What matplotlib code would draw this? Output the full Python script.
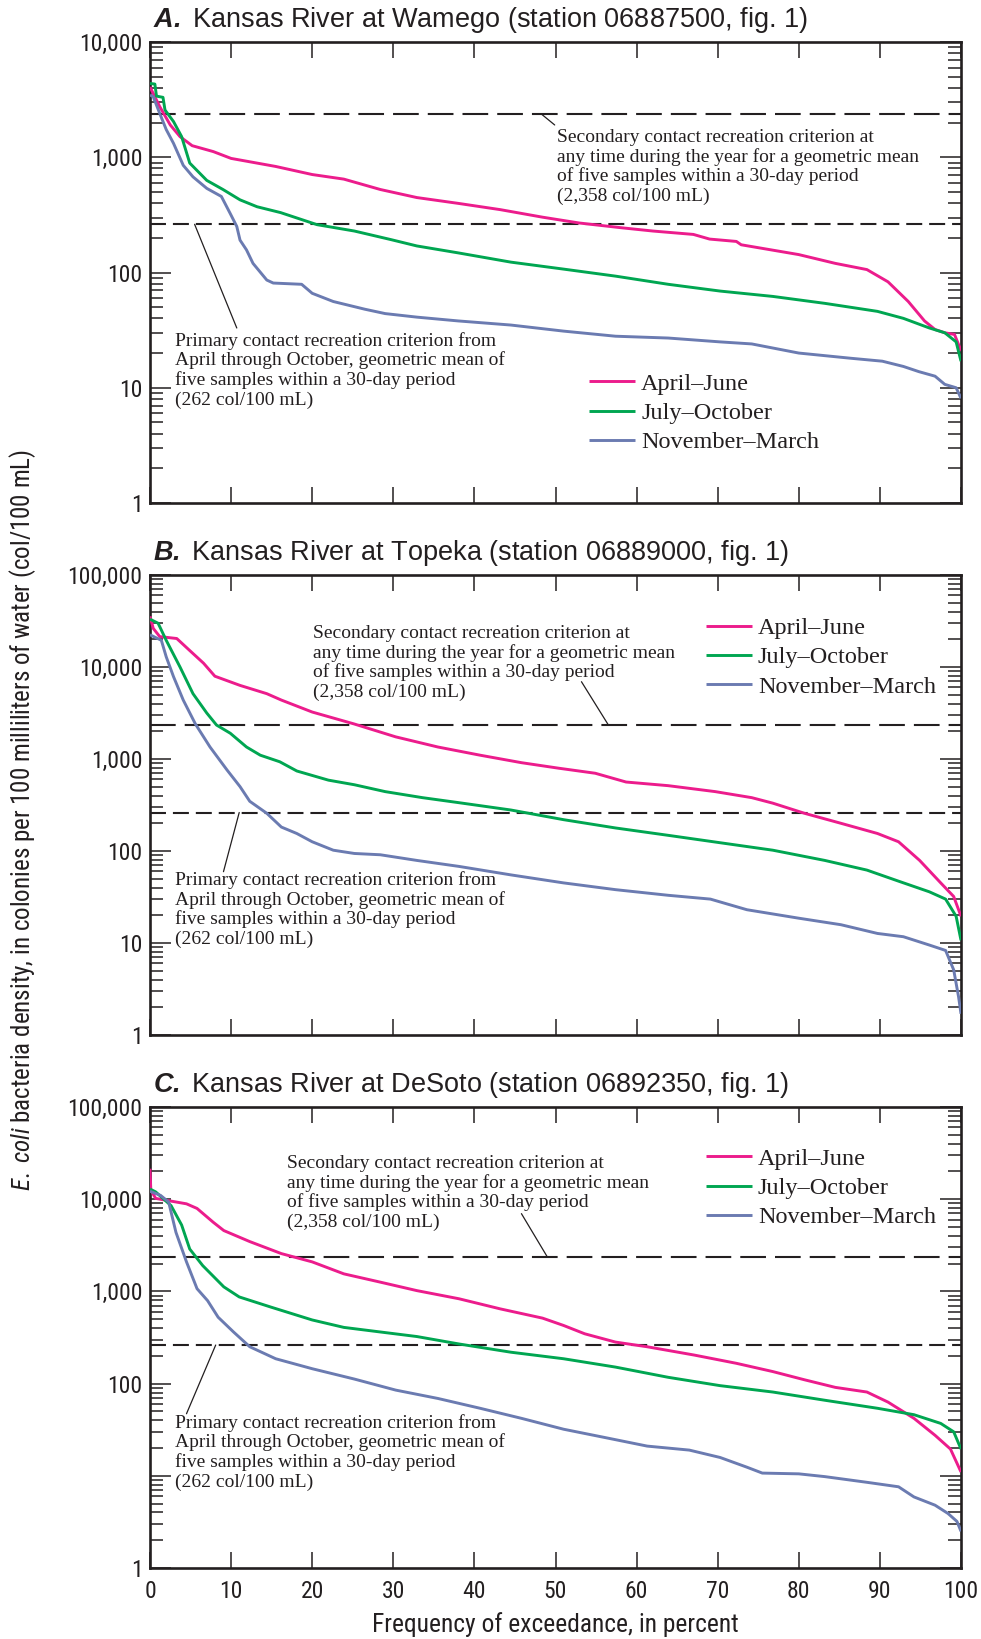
import matplotlib
matplotlib.use("Agg")
import matplotlib.pyplot as plt
from matplotlib import font_manager
from matplotlib.ticker import FixedLocator, FixedFormatter, LogLocator, NullFormatter
from matplotlib.transforms import ScaledTranslation
import numpy as np

# ---------------------------------------------------------------------------
# Duration curves: frequency of exceedance (percent) and E. coli density
# (col/100 mL) for each season at each station.
# ---------------------------------------------------------------------------
SEASONS = ["April\u2013June", "July\u2013October", "November\u2013March"]

# A. Kansas River at Wamego
wam_apr_pct = [0, 1.2, 2.5, 3.7, 5.2, 7.8, 10, 15.5, 20, 23.9, 28.4, 32.9, 38, 43.2, 48.4,
               52.9, 58, 62, 67, 69, 72.3, 72.9, 80, 84.5, 88.4, 91, 93.5, 95.5, 96.8, 98,
               99.2, 100]
wam_apr_val = [4070, 2750, 1905, 1510, 1260, 1120, 977, 832, 708, 646, 525, 447, 398, 351, 302,
               269, 245, 229, 214, 195, 186, 174, 143, 120, 106, 83, 56, 38, 32, 30,
               29, 21]
wam_jul_pct = [0, 0.6, 0.8, 1.6, 1.85, 2.9, 3.9, 4.9, 7, 9, 11.1, 13.2, 16.1, 20.6, 25.2, 29.7,
               32.9, 38, 44.5, 51, 57.4, 63.9, 70.3, 76.8, 83.2, 89.7, 92.9, 96.1, 98, 99.4, 100]
wam_jul_val = [4370, 4315, 3390, 3310, 2570, 2040, 1510, 890, 630, 525, 427, 372, 331, 260, 229,
               193, 170, 148, 123, 107, 93, 79, 69, 62, 54, 46, 40, 33, 30, 25, 17]
wam_nov_pct = [0, 0.4, 1.2, 2, 2.9, 4.1, 5.3, 7, 8.8, 9.9, 10.7, 11.1, 11.9, 12.7, 14.4, 15.2,
               18.7, 20, 22.6, 26.5, 29, 32.9, 38, 44.5, 51, 57.4, 63.9, 70.3, 74.2, 80, 86.5,
               90.3, 92.9, 94.8, 96.8, 98, 99.4, 100]
wam_nov_val = [3470, 3350, 2400, 1740, 1320, 851, 676, 537, 457, 324, 251, 191, 157, 120, 86, 81,
               79, 66, 56, 48, 44, 41, 38, 35, 31, 28, 27, 25, 24, 20, 18,
               17, 15.3, 13.8, 12.6, 10.7, 10, 8.1]

# B. Kansas River at Topeka
top_apr_pct = [0, 0.4, 1.2, 3.3, 4.9, 6.6, 8, 11.1, 14.4, 16.2, 20, 25.2, 30.3, 35.5, 40.7,
               45.8, 50.4, 54.9, 58.7, 63.9, 69.7, 74.2, 76.8, 80.7, 85.2, 89.7, 92.3, 94.9,
               97.5, 99.1, 100]
top_apr_val = [35500, 26300, 21400, 20400, 15100, 11000, 7940, 6310, 5130, 4370, 3240, 2400,
               1740, 1350, 1100, 912, 794, 700, 562, 513, 442, 380, 331, 257, 200, 155, 126,
               79, 45, 32, 19.5]
top_jul_pct = [0, 1, 2, 3.7, 5.3, 7, 8.2, 9.9, 11.9, 13.6, 16, 18.1, 22, 25.2, 29, 33.6, 38.1,
               44.5, 51, 57.4, 63.9, 70.3, 76.8, 83.2, 88.4, 92.3, 96.1, 98.1, 99.4, 100]
top_jul_val = [33100, 29900, 19500, 10000, 5130, 3160, 2340, 1905, 1350, 1100, 933, 741, 589,
               525, 442, 380, 335, 279, 219, 178, 148, 123, 102, 79, 62, 47, 36, 30, 19.5, 10.7]
top_nov_pct = [0, 1.4, 2, 2.9, 4.1, 5.6, 7.4, 9.5, 11.1, 12.3, 14.4, 16.2, 18.1, 20, 22.6, 25.2,
               28.4, 32.9, 38.1, 44.5, 51, 57.4, 63.9, 69.1, 73.6, 80, 85.2, 89.7, 92.9, 96.1,
               98.1, 99.1, 99.7, 100]
top_nov_val = [22400, 19500, 12900, 7850, 4370, 2400, 1350, 759, 501, 347, 257, 182, 155, 126,
               102, 94, 91, 79, 68, 55, 45, 38, 33, 30, 23, 18.6, 15.8, 12.7, 11.7, 9.5,
               8.3, 5.1, 2.6, 1.7]

# C. Kansas River at DeSoto
des_apr_pct = [0, 0.1, 0.7, 1.9, 4.5, 5.8, 7.8, 9.1, 12.3, 16.2, 20, 23.9, 28.4, 32.9, 38.1,
               43.2, 48.4, 51, 53.6, 57.4, 61.3, 67.1, 72.3, 76.8, 80.7, 84.5, 88.4, 91, 94.2,
               96.8, 98.7, 100]
des_apr_val = [21400, 12600, 10200, 9770, 8910, 7940, 5620, 4570, 3470, 2570, 2090, 1550, 1260,
               1020, 832, 646, 513, 427, 347, 282, 251, 204, 166, 135, 110, 91, 81, 63, 42,
               27.5, 19.5, 11]
des_jul_pct = [0, 0.7, 2.6, 3.9, 4.9, 6.5, 9.1, 11, 14.9, 20, 23.9, 28.4, 32.9, 38.1, 44.5, 51,
               57.4, 63.9, 70.3, 76.8, 83.2, 89.7, 94.2, 97.5, 99.1, 100]
des_jul_val = [12900, 12000, 8510, 5250, 2880, 1905, 1120, 871, 676, 490, 407, 363, 324, 269,
               219, 186, 151, 117, 95, 81, 66, 54, 46, 37, 30, 19.5]
des_nov_pct = [0, 1.3, 2.3, 3.2, 4.5, 5.8, 7.1, 8.4, 10.3, 12.3, 15.5, 20, 25.2, 30.3, 35.5,
               40.7, 45.8, 51, 56.1, 61.3, 66.5, 70.3, 73.6, 75.5, 80, 83.2, 88.4, 92.3, 94.2,
               96.8, 98.4, 99.5, 100]
des_nov_val = [12200, 11000, 9330, 4370, 2090, 1070, 794, 525, 363, 251, 186, 145, 112, 85, 69,
               54, 42, 32, 26, 21, 19, 15.8, 12.4, 10.7, 10.5, 9.8, 8.5, 7.6, 5.9,
               4.8, 3.9, 3.2, 2.5]

# Recreation criteria (col/100 mL)
SECONDARY_CRITERION = 2358
PRIMARY_CRITERION = 262

SECONDARY_NOTE = ["Secondary contact recreation criterion at",
                  "any time during the year for a geometric mean",
                  "of five samples within a 30-day period",
                  "(2,358 col/100 mL)"]
PRIMARY_NOTE = ["Primary contact recreation criterion from",
                "April through October, geometric mean of",
                "five samples within a 30-day period",
                "(262 col/100 mL)"]

X_TICKS = list(range(0, 101, 10))
X_TICK_LABELS = [str(v) for v in X_TICKS]

# ---------------------------------------------------------------------------
# Styling
# ---------------------------------------------------------------------------
installed = {f.name for f in font_manager.fontManager.ttflist}
CONDENSED = next((n for n in ["Liberation Sans Narrow", "Roboto Condensed",
                              "Open Sans Condensed", "Noto Sans Condensed"]
                  if n in installed), None)
NARROW = CONDENSED or "Liberation Sans"
LABEL_SIZE = 17 if CONDENSED else 15
XLABEL_SIZE = 18.4 if CONDENSED else 16
YLABEL_SIZE = 18 if CONDENSED else 16.5
SANS = "Liberation Sans"
SERIF = "Liberation Serif"

plt.rcParams.update({
    "font.family": [NARROW, "DejaVu Sans"],
    "mathtext.fontset": "custom",
    "mathtext.rm": NARROW,
    "mathtext.it": NARROW + ":italic",
    "mathtext.bf": SANS + ":italic:bold",
    "lines.scale_dashes": False,
})

INK = "#231f20"
COLORS = ["#ec1c8c", "#00a651", "#6b7bb1"]

FIG_W, FIG_H = 981, 1639
fig = plt.figure(figsize=(FIG_W / 100, FIG_H / 100), dpi=100)
fig.patch.set_facecolor("white")

LEFT, RIGHT = 150, 961


def axes_rect(top_px, bottom_px):
    return [LEFT / FIG_W, 1 - bottom_px / FIG_H, (RIGHT - LEFT) / FIG_W,
            (bottom_px - top_px) / FIG_H]


panels = [
    dict(letter="A.", name=" Kansas River at Wamego (station 06887500, fig. 1)",
         rect=axes_rect(42, 503), ymax=1e4,
         yticks=[1, 10, 100, 1000, 10000],
         ylabels=["1", "10", "100", "1,000", "10,000"],
         series=[(wam_apr_pct, wam_apr_val), (wam_jul_pct, wam_jul_val),
                 (wam_nov_pct, wam_nov_val)],
         legend_at=(0.541, 0.195),
         sec_text=(0.502, 0.7824), sec_lead=((48.3, SECONDARY_CRITERION), (49.9, 1906)),
         pri_text=(0.0313, 0.3406), pri_lead=((5.5, PRIMARY_CRITERION), (10.7, 33.0)),
         xlabels=False),
    dict(letter="B.", name=" Kansas River at Topeka (station 06889000, fig. 1)",
         rect=axes_rect(575, 1035), ymax=1e5,
         yticks=[1, 10, 100, 1000, 10000, 100000],
         ylabels=["1", "10", "100", "1,000", "10,000", "100,000"],
         series=[(top_apr_pct, top_apr_val), (top_jul_pct, top_jul_val),
                 (top_nov_pct, top_nov_val)],
         legend_at=(0.685, 0.821),
         sec_text=(0.2015, 0.8624), sec_lead=((56.5, SECONDARY_CRITERION), (53.2, 6920)),
         pri_text=(0.0312, 0.325), pri_lead=((11.0, PRIMARY_CRITERION), (9.06, 59.6)),
         xlabels=False),
    dict(letter="C.", name=" Kansas River at DeSoto (station 06892350, fig. 1)",
         rect=axes_rect(1107, 1568), ymax=1e5,
         yticks=[1, 10, 100, 1000, 10000, 100000],
         ylabels=["1", "", "100", "1,000", "10,000", "100,000"],
         series=[(des_apr_pct, des_apr_val), (des_jul_pct, des_jul_val),
                 (des_nov_pct, des_nov_val)],
         legend_at=(0.685, 0.824),
         sec_text=(0.1693, 0.867), sec_lead=((49.0, SECONDARY_CRITERION), (45.8, 6970)),
         pri_text=(0.0312, 0.3037), pri_lead=((8.1, PRIMARY_CRITERION), (4.5, 47.1)),
         xlabels=True),
]

LINE_STEP = 0.195  # inches between baselines of note lines


def draw_note(ax, xy, lines):
    for i, line in enumerate(lines):
        offset = ScaledTranslation(0, -i * LINE_STEP, fig.dpi_scale_trans)
        ax.text(xy[0], xy[1], line, transform=ax.transAxes + offset,
                ha="left", va="baseline", family=SERIF, fontsize=14, color=INK)


def draw_leader(ax, lead):
    (x0, y0), (x1, y1) = lead
    ax.annotate("", xy=(x0, y0), xytext=(x1, y1),
                arrowprops=dict(arrowstyle="-", color=INK, lw=0.9,
                                shrinkA=0, shrinkB=0))


for p in panels:
    ax = fig.add_axes(p["rect"])
    ax.set_xlim(0, 100)
    ax.set_yscale("log")
    ax.set_ylim(1, p["ymax"])

    for (pct, val), label, color in zip(p["series"], SEASONS, COLORS):
        ax.plot(pct, val, color=color, lw=2.1, label=label,
                solid_joinstyle="round", solid_capstyle="butt", zorder=3)

    ax.axhline(SECONDARY_CRITERION, color=INK, lw=1.5, dashes=(18.5, 6.5), zorder=2)
    ax.axhline(PRIMARY_CRITERION, color=INK, lw=1.5, dashes=(11.5, 5.0), zorder=2)

    draw_note(ax, p["sec_text"], SECONDARY_NOTE)
    draw_note(ax, p["pri_text"], PRIMARY_NOTE)
    draw_leader(ax, p["sec_lead"])
    draw_leader(ax, p["pri_lead"])

    # axes frame and ticks
    for sp in ax.spines.values():
        sp.set_linewidth(1.9)
        sp.set_color(INK)
    ax.xaxis.set_major_locator(FixedLocator(X_TICKS))
    ax.xaxis.set_major_formatter(FixedFormatter(X_TICK_LABELS))
    ax.yaxis.set_major_locator(FixedLocator(p["yticks"]))
    ax.yaxis.set_major_formatter(FixedFormatter(p["ylabels"]))
    ax.yaxis.set_minor_locator(LogLocator(base=10, subs=np.arange(2, 10), numticks=30))
    ax.yaxis.set_minor_formatter(NullFormatter())
    ax.tick_params(axis="x", which="major", direction="in", top=True, bottom=True,
                   length=11.5, width=1.1, color=INK, labelcolor=INK,
                   labelsize=LABEL_SIZE, pad=8.5, labelbottom=p["xlabels"])
    ax.tick_params(axis="y", which="major", direction="in", left=True, right=True,
                   length=15, width=1.1, color=INK, labelcolor=INK,
                   labelsize=LABEL_SIZE, pad=5.5)
    ax.tick_params(axis="y", which="minor", direction="in", left=True, right=True,
                   length=9.5, width=1.1, color=INK)

    leg = ax.legend(loc="center left", bbox_to_anchor=p["legend_at"], frameon=False,
                    prop=dict(family=SERIF, size=17.5), handlelength=1.9,
                    handletextpad=0.25, labelspacing=0.3, borderpad=0,
                    borderaxespad=0)
    for t in leg.get_texts():
        t.set_color(INK)

    ax.text(0.004, 1.0325, r"$\mathbf{" + p["letter"] + "}$" + p["name"],
            transform=ax.transAxes, ha="left", va="baseline",
            family=SANS, fontsize=19.5, color=INK)

fig.text(555 / FIG_W, 1 - 1625 / FIG_H, "Frequency of exceedance, in percent",
         ha="center", va="center", fontsize=XLABEL_SIZE, color=INK)
fig.text(23 / FIG_W, 1 - 820 / FIG_H,
         r"$\it{E.\ coli}$ bacteria density, in colonies per 100 milliliters of water (col/100 mL)",
         rotation=90, ha="center", va="center", fontsize=YLABEL_SIZE, color=INK)

fig.savefig("out.png", dpi=100, facecolor="white")
